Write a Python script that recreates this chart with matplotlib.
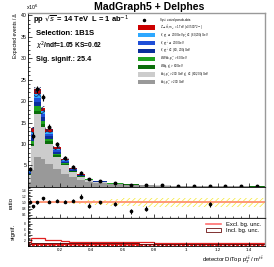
import numpy as np
import matplotlib
matplotlib.use("Agg")
import matplotlib.pyplot as plt
from matplotlib.patches import Patch, Rectangle
from matplotlib.lines import Line2D
from matplotlib.ticker import MultipleLocator

plt.rcParams['font.family'] = ['Liberation Sans', 'DejaVu Sans']
plt.rcParams['hatch.linewidth'] = 0.5

# bin edges of detector DiTop pT/m
edges = [0, 0.02, 0.04, 0.08, 0.11, 0.16, 0.21, 0.26, 0.31, 0.36, 0.41,
         0.5, 0.6, 0.7, 0.8, 0.9, 1.0, 1.1, 1.2, 1.3, 1.4, 1.5]

# stacked backgrounds (x10^6 events), bottom to top
bbjj_hi = [1.2, 4.0, 7.0, 6.5, 5.3, 4.2, 3.0, 2.3, 1.7, 1.2, 0.9, 0.6, 0.45, 0.35, 0.28, 0.22, 0.18, 0.15, 0.12, 0.10, 0.08]
bbjj_lo = [1.5, 5.5, 10.0, 7.5, 4.8, 2.8, 2.0, 1.2, 0.7, 0.4, 0.25, 0.15, 0.10, 0.07, 0.05, 0.04, 0.03, 0.02, 0.02, 0.015, 0.01]
wtbj = [0.15, 0.5, 0.8, 0.6, 0.5, 0.35, 0.25, 0.15, 0.10, 0.07, 0.05, 0.03, 0.02, 0.015, 0.01, 0.01, 0.01, 0.005, 0.005, 0.005, 0.005]
wwbb = [0.2, 0.7, 1.0, 0.8, 0.6, 0.4, 0.25, 0.15, 0.10, 0.07, 0.05, 0.03, 0.02, 0.015, 0.01, 0.01, 0.01, 0.005, 0.005, 0.005, 0.005]
tt_lo = [0.2, 0.8, 1.0, 0.8, 0.6, 0.4, 0.25, 0.15, 0.10, 0.06, 0.04, 0.03, 0.02, 0.01, 0.01, 0.01, 0.005, 0.005, 0.005, 0.005, 0.005]
tt_hi = [0.2, 0.8, 1.0, 0.8, 0.6, 0.4, 0.25, 0.15, 0.08, 0.05, 0.04, 0.03, 0.02, 0.01, 0.01, 0.01, 0.005, 0.005, 0.005, 0.005, 0.005]
tt_mix = [0.2, 0.6, 0.8, 0.6, 0.5, 0.3, 0.2, 0.10, 0.06, 0.04, 0.03, 0.02, 0.01, 0.01, 0.01, 0.005, 0.005, 0.005, 0.005, 0.005, 0.005]
zprime = [0.3, 0.8, 1.1, 0.9, 0.7, 0.45, 0.3, 0.2, 0.10, 0.06, 0.04, 0.03, 0.02, 0.01, 0.01, 0.01, 0.005, 0.005, 0.005, 0.005, 0.005]

# pseudo-data
data = [4.1, 11.9, 22.7, 20.9, 14.0, 9.9, 6.7, 4.7, 3.3, 1.75, 1.4, 0.85, 0.5, 0.4, 0.35, 0.25, 0.2, 0.2, 0.15, 0.1, 0.1]
data_err = [0.5, 0.8, 0.9, 0.8, 0.6, 0.5, 0.4, 0.35, 0.3, 0.25, 0.2, 0.2, 0.15, 0.15, 0.15, 0.12, 0.12, 0.1, 0.1, 0.1, 0.1]

# ratio panel
ratio = [1.03, 0.87, 1.0, 1.13, 1.03, 1.06, 1.03, 1.06, 1.19, 0.9, 1.0, 0.94, 0.71, 0.8,
         np.nan, np.nan, np.nan, 0.94, np.nan, np.nan, np.nan]
ratio_err = [0.04, 0.05, 0.04, 0.05, 0.04, 0.05, 0.05, 0.06, 0.07, 0.08, 0.06, 0.07, 0.08, 0.09,
             0.1, 0.1, 0.1, 0.09, 0.1, 0.1, 0.1]
ratio_band = [0.01, 0.01, 0.01, 0.01, 0.02, 0.02, 0.03, 0.04, 0.05, 0.07, 0.09, 0.11, 0.13, 0.14,
              0.15, 0.15, 0.15, 0.15, 0.15, 0.15, 0.15]

# significance panel
signif_excl = [1.4, 2.9, 2.9, 2.9, 2.1, 2.1, 1.8, 1.6, 1.4, 1.4, 1.4, 1.4, 1.4, 1.3, 1.2, 1.2, 1.2, 1.2, 1.1, 1.1, 1.1]
signif_incl = [0.6, 1.1, 1.2, 1.1, 1.0, 0.9, 1.0, 1.2, 1.2, 1.2, 1.2, 1.2, 0.9, 0.8, 0.8, 0.8, 0.8, 0.8, 0.8, 0.8, 0.8]

stack = [
    (bbjj_hi, '#999999', r'bbjj, p$_T^{j,j}$ > 200 GeV'),
    (bbjj_lo, '#cccccc', r'bbjj, p$_T^{j}$ > 200 GeV p$_T^{j}$ $\in$ (60,200) GeV'),
    (wtbj, '#0b6e0b', r'Wtbj, p$_T^{j}$ > 60 GeV'),
    (wwbb, '#1fa31f', r'WWbb, p$_T^{j,j}$ > 60 GeV'),
    (tt_lo, '#0a2f9c', r't$\bar{t}$, p$_T^{t,\bar{t}}$ $\in$ (60, 200) GeV'),
    (tt_hi, '#1f4fd8', r't$\bar{t}$, p$_T^{t,\bar{t}}$ $\geq$ 200 GeV'),
    (tt_mix, '#2ea8ff', r't$\bar{t}$, p$_T^{t}$ $\geq$ 200 GeV p$_T^{\bar{t}}$ $\in$ (60,200) GeV'),
    (zprime, '#cc0000', r"Z'$\rightarrow$t$\bar{t}$, m$_{Z'}$ = 1 TeV (x37500*2$^{-1}$)"),
]

edges = np.array(edges)
centers = 0.5 * (edges[:-1] + edges[1:])

fig = plt.figure(figsize=(2.74, 2.67), dpi=100)
ax = fig.add_axes([0.102, 0.300, 0.865, 0.651])
axr = fig.add_axes([0.102, 0.1835, 0.865, 0.1165], sharex=ax)
axs = fig.add_axes([0.102, 0.0787, 0.865, 0.1048], sharex=ax)

bottom = np.zeros(len(centers))
for vals, col, lab in stack:
    vals = np.array(vals)
    ax.stairs(bottom + vals, edges, baseline=bottom, fill=True, color=col, lw=0)
    bottom = bottom + vals
total = bottom

# systematic band (hatched)
unc = 0.08 * total
ax.stairs(total + 0.3 * unc, edges, baseline=total - unc, fill=True, facecolor='none',
          edgecolor='#1a2a60', hatch='xxxxxx', lw=0)

ax.errorbar(centers, data, yerr=data_err, fmt='o', color='black', ms=1.8, elinewidth=0.8, capsize=0)

ax.set_xlim(0, 1.5)
ax.set_ylim(0, 40.5)
ax.set_yticks([5, 10, 15, 20, 25, 30, 35, 40])
ax.yaxis.set_minor_locator(MultipleLocator(1))
ax.xaxis.set_major_locator(MultipleLocator(0.2))
ax.xaxis.set_minor_locator(MultipleLocator(0.05))
ax.tick_params(axis='both', which='both', direction='in', labelsize=3.8, width=0.5, pad=1)
ax.tick_params(which='major', length=3)
ax.tick_params(which='minor', length=1.5)
ax.tick_params(axis='x', labelbottom=False)
for sp in ['top', 'right']:
    ax.spines[sp].set_color('#999999')
    ax.spines[sp].set_linewidth(1.0)
ax.spines['left'].set_linewidth(0.6)
ax.spines['bottom'].set_linewidth(0.6)

ax.set_ylabel(u'Expected events / \u0394', fontsize=3.6, loc='top', labelpad=2)
ax.text(-0.01, 1.005, r'x10$^6$', transform=ax.transAxes, fontsize=3.8, ha='left', va='bottom')

fig.text(0.545, 0.972, 'MadGraph5 + Delphes', fontsize=7.6, fontweight='bold', ha='center', va='center')
ax.text(0.02, 0.955, r'pp $\sqrt{s}$ = 14 TeV  L = 1 ab$^{-1}$', transform=ax.transAxes,
        fontsize=5.4, fontweight='bold', va='center')
ax.text(0.035, 0.885, 'Selection: 1B1S', transform=ax.transAxes, fontsize=5.6, fontweight='bold', va='center')
ax.text(0.035, 0.81, r'$\chi^2$/ndf=1.05 KS=0.62', transform=ax.transAxes, fontsize=4.8,
        fontweight='bold', va='center')
ax.text(0.035, 0.735, 'Sig. signif.: 25.4', transform=ax.transAxes, fontsize=5.2, fontweight='bold',
        va='center')

# legend drawn by hand to keep ROOT-like compact rows
leg_y0 = 0.962
leg_dy = 0.045
ax.plot([0.49], [leg_y0], 'o', color='black', ms=1.5, transform=ax.transAxes)
ax.text(0.557, leg_y0, 'Syst. varied pseudo-data', transform=ax.transAxes, fontsize=2.0, va='center')
for i, (vals, col, lab) in enumerate(stack[::-1]):
    yy = leg_y0 - (i + 1) * leg_dy
    ax.add_patch(Rectangle((0.464, yy - 0.012), 0.072, 0.024, transform=ax.transAxes,
                           facecolor=col, edgecolor='none'))
    ax.text(0.557, yy, lab, transform=ax.transAxes, fontsize=2.0, va='center')

# ratio panel
lo = 1 - np.array(ratio_band)
hi = 1 + np.array(ratio_band)
axr.stairs(hi, edges, baseline=lo, fill=True, facecolor='none', edgecolor='#f5e830', hatch='//////', lw=0)
axr.axhline(1, color='#ff9070', lw=1.3)
axr.errorbar(centers, ratio, yerr=ratio_err, fmt='o', color='black', ms=1.6, elinewidth=0.8, capsize=0)
axr.set_ylim(0.5, 1.5)
axr.set_yticks([0.6, 0.8, 1.0, 1.2, 1.4])
axr.yaxis.set_minor_locator(MultipleLocator(0.05))
axr.tick_params(axis='both', which='both', direction='in', labelsize=2.3, width=0.5, pad=1)
axr.tick_params(which='major', length=3)
axr.tick_params(which='minor', length=1.5)
axr.tick_params(axis='x', labelbottom=False)
axr.set_ylabel('ratio', fontsize=4.5, labelpad=6)
for sp in axr.spines.values():
    sp.set_linewidth(0.6)
axr.spines['right'].set_color('#999999')
axr.spines['right'].set_linewidth(1.0)
axr.spines['bottom'].set_color('#888888')
axr.spines['bottom'].set_linewidth(1.0)

# significance panel
axs.stairs(np.full(len(centers), 0.8), edges, baseline=0, fill=True, facecolor='#dd1111',
           edgecolor='white', hatch='....', lw=0)
axs.stairs(signif_incl, edges, baseline=0.8, fill=True, color='#f08080', alpha=0.7, lw=0)
axs.stairs(signif_excl, edges, color='#e02020', lw=0.9)
axs.stairs(signif_incl, edges, color='#6b1010', lw=0.7)
axs.set_ylim(0, 10)
axs.set_yticks([2, 4, 6, 8])
axs.yaxis.set_minor_locator(MultipleLocator(0.5))
axs.tick_params(axis='both', which='both', direction='in', labelsize=2.3, width=0.5, pad=1.5)
axs.tick_params(which='major', length=3)
axs.tick_params(which='minor', length=1.5)
axs.tick_params(axis='x', labelsize=3.2)
axs.set_ylabel('signif.', fontsize=4.5, labelpad=6)
for sp in axs.spines.values():
    sp.set_linewidth(0.6)
axs.spines['right'].set_color('#999999')
axs.spines['right'].set_linewidth(1.0)
axs.set_xticks([0.2, 0.4, 0.6, 0.8, 1.0, 1.2, 1.4])
axs.set_xticklabels(['0.2', '0.4', '0.6', '0.8', '1', '1.2', '1.4'])

sh = [Line2D([], [], color='#ff7070', lw=1.2),
      Patch(facecolor='white', edgecolor='#6b1010', lw=0.6)]
axs.legend(sh, ['Excl. bg. unc.', 'Incl. bg. unc.'], loc='upper right', bbox_to_anchor=(1.0, 1.02),
           fontsize=4.2, frameon=False, handlelength=2.5, labelspacing=0.3, borderpad=0.2)

fig.text(0.965, 0.025, r'detector DiTop p$_T^{t\bar{t}}$ / m$^{t\bar{t}}$', fontsize=4.2,
         ha='right', va='center')

fig.savefig('out.png', dpi=100)
